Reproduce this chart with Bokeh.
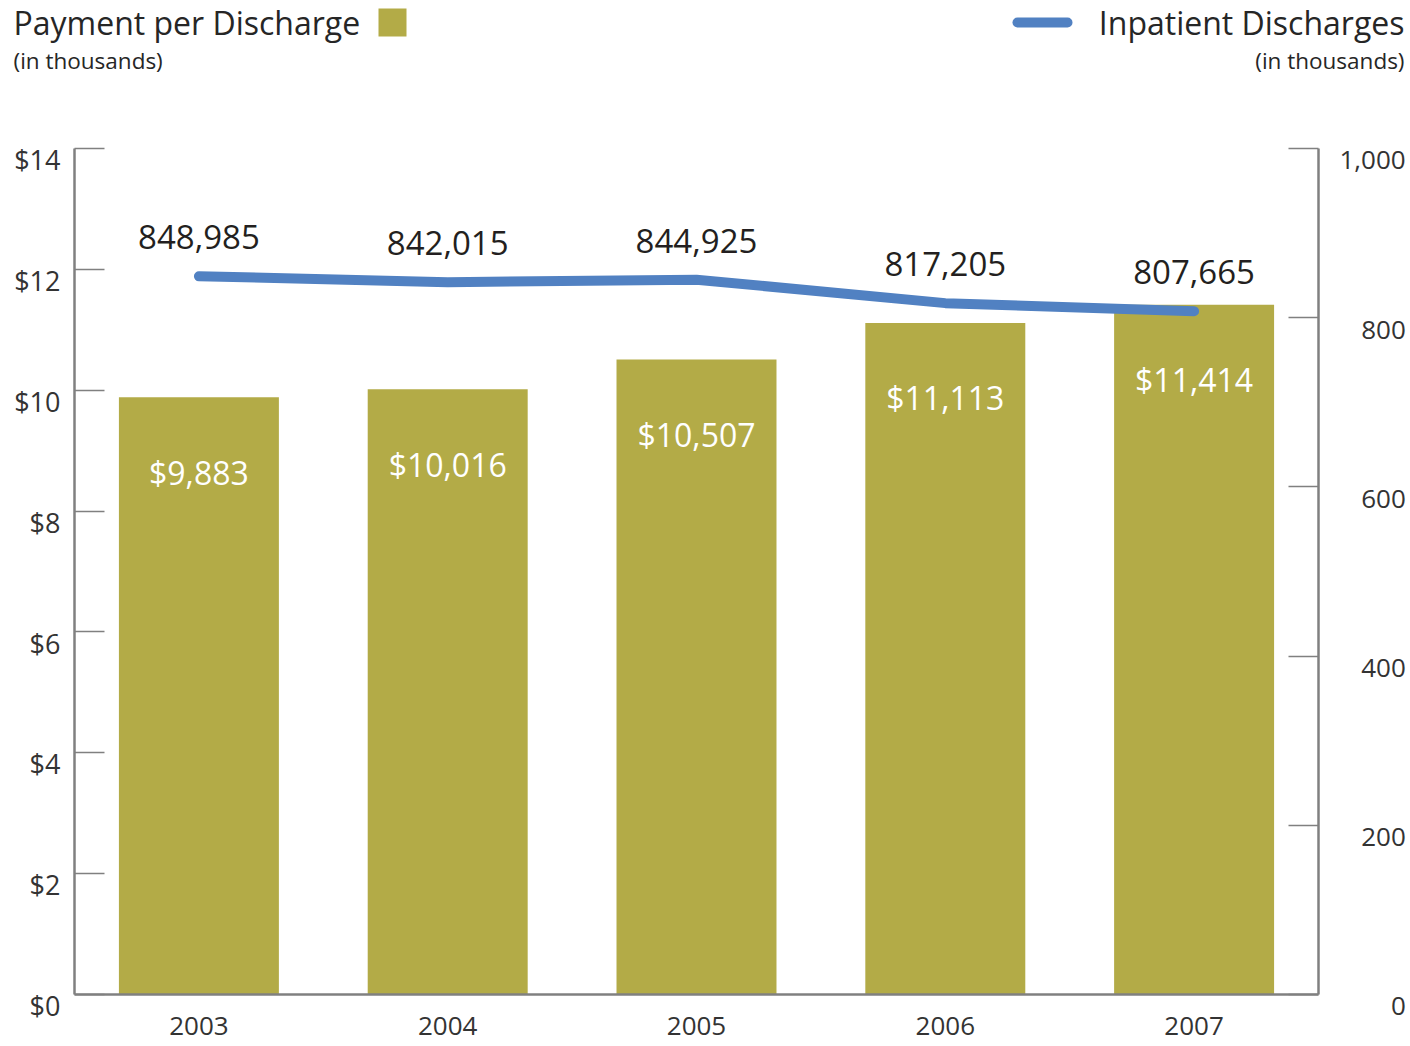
from bokeh.plotting import figure
from bokeh.models import (Range1d, LinearAxis, FixedTicker, CustomJSTickFormatter,
                          ColumnDataSource, FactorRange)
from bokeh.core.properties import value
from bokeh.embed import file_html
from bokeh.resources import INLINE

# ---- data ----
years = ["2003", "2004", "2005", "2006", "2007"]
payment = [9883, 10016, 10507, 11113, 11414]          # dollars per discharge
discharges = [848985, 842015, 844925, 817205, 807665]  # inpatient discharges
left_ticks = [0, 2, 4, 6, 8, 10, 12, 14]
right_ticks = [0, 200, 400, 600, 800, 1000]

# ---- layout constants (pixels) ----
W, H = 1410, 1046
FL, FR, FB = 74, 1318, 994     # frame left, right, bottom
PX_TOP_TICK = 148              # pixel row of $14 / 1,000
Y_TOP = 14 * FB / (FB - PX_TOP_TICK)     # frame reaches the top of the figure
R_TOP = 1000 * FB / (FB - PX_TOP_TICK)

OLIVE = "#b3ab47"
BLUE = "#5181c2"
TXT = "#262626"
LBL = "#333333"
AX = "#808080"
FONT = "Open Sans"


def X(px):   # pixel column -> synthetic x coordinate
    return (px - FL) / (FR - FL) * len(years)


def Y(py):   # pixel row -> left-axis y coordinate
    return (FB - py) / FB * Y_TOP


p = figure(x_range=FactorRange(*years), y_range=Range1d(0, Y_TOP),
           width=W, height=H, output_backend="svg", toolbar_location=None,
           min_border_left=FL, min_border_right=W - FR, min_border_top=0,
           min_border_bottom=H - FB)
p.extra_y_ranges = {"right": Range1d(0, R_TOP)}
p.outline_line_color = None
p.grid.visible = False

src = ColumnDataSource(dict(
    year=years,
    pay=[v / 1000 for v in payment],
    dis=[v / 1000 for v in discharges],
    pay_lbl=[f"${v:,}" for v in payment],
    dis_lbl=[f"{v:,}" for v in discharges],
))

p.vbar(x="year", top="pay", width=0.643, source=src, color=OLIVE, line_color=None)
p.line(x="year", y="dis", source=src, y_range_name="right", line_color=BLUE,
       line_width=10, line_cap="round", line_join="round")

p.text(x="year", y="pay", text="pay_lbl", source=src, y_offset=75,
       text_align="center", text_baseline="middle", text_color="white",
       text_font=value(FONT), text_font_size="32px")
p.text(x="year", y="dis", text="dis_lbl", source=src, y_range_name="right", y_offset=-39,
       text_align="center", text_baseline="middle", text_color="#231f20",
       text_font=value(FONT), text_font_size="33px")

# ---- header: titles and legend swatches ----
hdr = dict(text_font=value(FONT), text_color=TXT, text_baseline="middle", level="overlay")
p.text(x=[X(13)], y=[Y(22)], text=["Payment per Discharge"], text_font_size="32px",
       text_align="left", **hdr)
p.text(x=[X(13)], y=[Y(60)], text=["(in thousands)"], text_font_size="22.5px",
       text_align="left", **hdr)
p.text(x=[X(1404)], y=[Y(22)], text=["Inpatient Discharges"], text_font_size="32px",
       text_align="right", **hdr)
p.text(x=[X(1404)], y=[Y(60)], text=["(in thousands)"], text_font_size="22.5px",
       text_align="right", **hdr)
p.scatter(x=[X(392)], y=[Y(22)], marker="square", size=28, color=OLIVE, line_color=None)
p.line(x=[X(1017), X(1067)], y=[Y(22), Y(22)], line_color=BLUE, line_width=10,
       line_cap="round")

# ---- x axis ----
xa = p.xaxis[0]
xa.axis_line_color = AX
xa.axis_line_width = 2.5
xa.major_tick_line_color = None
xa.minor_tick_line_color = None
xa.major_label_text_font = FONT
xa.major_label_text_font_size = "26px"
xa.major_label_text_color = LBL
xa.major_label_standoff = 16

# ---- left axis: labels sit a little below their tick (blank first line) ----
ya = p.yaxis[0]
ya.ticker = FixedTicker(ticks=left_ticks)
ya.bounds = (0, 14)
ya.formatter = CustomJSTickFormatter(code=r"""return '\u00a0\n$' + tick;""")

# ---- right axis: right-aligned numbers via figure / punctuation spaces ----
ra = LinearAxis(y_range_name="right", ticker=FixedTicker(ticks=right_ticks), bounds=(0, 1000))
ra.formatter = CustomJSTickFormatter(code=r"""
const s = Math.round(tick).toString().replace(/\B(?=(\d{3})+(?!\d))/g, ",");
const nd = s.replace(/,/g, '').length;
const nc = (s.match(/,/g) || []).length;
return '\u00a0\n' + '\u2007'.repeat(Math.max(0, 4 - nd)) + '\u2008'.repeat(Math.max(0, 1 - nc)) + s;
""")
p.add_layout(ra, "right")

for ax in (ya, ra):
    ax.axis_line_color = AX
    ax.axis_line_width = 2.5
    ax.major_tick_line_color = AX
    ax.major_tick_line_width = 1.5
    ax.major_tick_in = 30
    ax.major_tick_out = 0
    ax.minor_tick_line_color = None
    ax.major_label_text_font = FONT
    ax.major_label_text_color = LBL
    ax.major_label_text_line_height = 0.6
ya.major_label_text_font_size = "27px"
ra.major_label_text_font_size = "26px"
ya.major_label_standoff = 14
ra.major_label_standoff = 21

open("out.html", "w").write(file_html(p, INLINE))
